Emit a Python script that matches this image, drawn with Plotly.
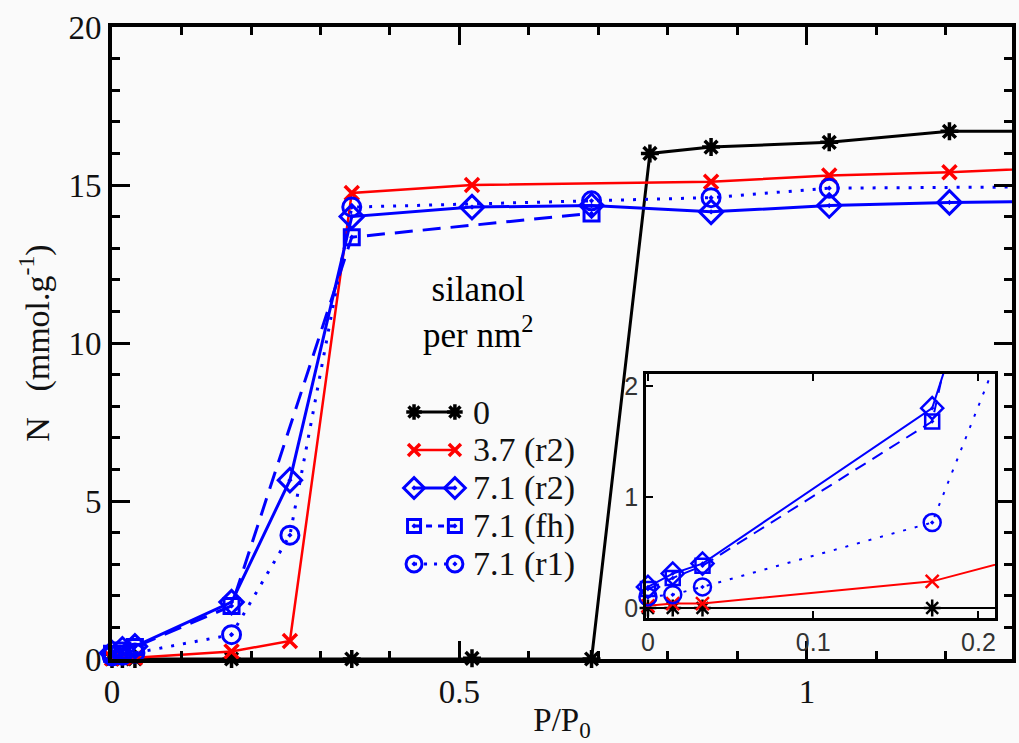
import plotly.graph_objects as go

# Adsorption isotherms: N (mmol/g) versus relative pressure P/P0,
# one curve per silanol density.
LABELS = ["0", "3.7 (r2)", "7.1 (r2)", "7.1 (fh)", "7.1 (r1)"]

P_SIL0 = [0.0, 0.015, 0.033, 0.172, 0.345, 0.518, 0.69, 0.774, 0.862, 1.032, 1.205, 1.40]
N_SIL0 = [0.0, 0.0, 0.0, 0.0, 0.0, 0.02, 0.0, 16.0, 16.2, 16.35, 16.7, 16.7]

P_SIL37_R2 = [0.0, 0.015, 0.033, 0.172, 0.256, 0.345, 0.518, 0.862, 1.032, 1.205, 1.40]
N_SIL37_R2 = [0.02, 0.04, 0.04, 0.24, 0.57, 14.75, 15.0, 15.1, 15.3, 15.4, 15.6]

P_SIL71_R2 = [0.0, 0.015, 0.033, 0.172, 0.256, 0.345, 0.518, 0.69, 0.862, 1.032, 1.205, 1.40]
N_SIL71_R2 = [0.19, 0.31, 0.40, 1.8, 5.66, 14.0, 14.3, 14.35, 14.15, 14.35, 14.45, 14.5]

P_SIL71_FH = [0.0, 0.015, 0.033, 0.172, 0.345, 0.69]
N_SIL71_FH = [0.17, 0.27, 0.38, 1.68, 13.35, 14.1]

P_SIL71_R1 = [0.0, 0.015, 0.033, 0.172, 0.256, 0.345, 0.69, 0.862, 1.032, 1.40]
N_SIL71_R1 = [0.10, 0.12, 0.19, 0.77, 3.92, 14.3, 14.5, 14.6, 14.9, 14.95]

MAIN_XTICKS = [0, 0.5, 1]
MAIN_XTICKTEXT = ["0", "0.5", "1"]
MAIN_YTICKS = [0, 5, 10, 15, 20]
INSET_XTICKS = [0, 0.1, 0.2]
INSET_XTICKTEXT = ["0", "0.1", "0.2"]
INSET_YTICKS = [0, 1, 2]

SERIES = [
    (P_SIL0, N_SIL0),
    (P_SIL37_R2, N_SIL37_R2),
    (P_SIL71_R2, N_SIL71_R2),
    (P_SIL71_FH, N_SIL71_FH),
    (P_SIL71_R1, N_SIL71_R1),
]

BLUE = "#0000ff"
STYLES = [
    dict(color="#000000", width=3, dash="solid", symbol="asterisk-open", size=15, mlw=3.5),
    dict(color="#ff0000", width=2.5, dash="solid", symbol="x-thin-open", size=14, mlw=3.5),
    dict(color=BLUE, width=3, dash="solid", symbol="diamond-open-dot", size=18, mlw=3),
    dict(color=BLUE, width=3, dash="18px,10px", symbol="square-open-dot", size=15, mlw=3),
    dict(color=BLUE, width=3, dash="3px,9px", symbol="circle-open-dot", size=18, mlw=3),
]
INSET_DASH = ["solid", "solid", "solid", "12px,8px", "3px,9px"]

SERIF = "Liberation Serif"
SANS = "Liberation Sans"

fig = go.Figure()

# main panel
for (px, ny), st in zip(SERIES, STYLES):
    fig.add_trace(go.Scatter(
        x=px, y=ny, mode="lines+markers", cliponaxis=False, showlegend=False,
        line=dict(color=st["color"], width=st["width"], dash=st["dash"]),
        marker=dict(symbol=st["symbol"], size=st["size"], color=st["color"],
                    line=dict(color=st["color"], width=st["mlw"])),
        xaxis="x", yaxis="y"))

# low-pressure inset
for (px, ny), st, dsh in zip(SERIES, STYLES, INSET_DASH):
    fig.add_trace(go.Scatter(
        x=px, y=ny, mode="lines+markers", cliponaxis=False, showlegend=False,
        line=dict(color=st["color"], width=2, dash=dsh),
        marker=dict(symbol=st["symbol"], size=st["size"] - 1, color=st["color"],
                    line=dict(color=st["color"], width=2.5)),
        xaxis="x2", yaxis="y2"))

# hand-drawn legend: line sample with a marker at each end, label to the right
LEG_X0, LEG_X1, LEG_TEXT_X = 0.3356, 0.381, 0.399
LEG_Y0, LEG_DY = 0.3908, 0.0601
for i, (lab, st) in enumerate(zip(LABELS, STYLES)):
    yy = LEG_Y0 - i * LEG_DY
    fig.add_trace(go.Scatter(
        x=[LEG_X0, LEG_X1], y=[yy, yy], mode="lines+markers", cliponaxis=False,
        showlegend=False,
        line=dict(color=st["color"], width=st["width"],
                  dash="6px,6px" if i == 3 else ("3px,7px" if i == 4 else "solid")),
        marker=dict(symbol=st["symbol"], size=st["size"] - 2, color=st["color"],
                    line=dict(color=st["color"], width=st["mlw"])),
        xaxis="x3", yaxis="y3"))
    fig.add_annotation(x=LEG_TEXT_X, y=yy, xref="paper", yref="paper", text=lab,
                       showarrow=False, xanchor="left", yanchor="middle",
                       font=dict(family=SERIF, size=34, color="#111111"))

fig.add_annotation(x=0.407, y=0.548, xref="paper", yref="paper",
                   text="silanol<br>per nm<sup>2</sup>", showarrow=False,
                   xanchor="center", yanchor="middle", align="center",
                   font=dict(family=SERIF, size=35, color="#000000"))

axis_common = dict(showgrid=False, zeroline=False, showline=True, linecolor="#000000",
                   ticks="inside", tickcolor="#000000", automargin=False)

fig.update_layout(
    width=1019, height=743,
    margin=dict(l=112, r=7, t=27, b=84),
    paper_bgcolor="#fafafa", plot_bgcolor="#fafafa",
    xaxis=dict(**axis_common, domain=[0, 1], range=[0, 1.295], linewidth=4, mirror="ticks",
               tickvals=MAIN_XTICKS, ticktext=MAIN_XTICKTEXT, ticklen=18, tickwidth=3,
               minor=dict(dtick=0.1, ticklen=8, tickwidth=3, ticks="inside", tickcolor="#000000"),
               tickfont=dict(family=SERIF, size=33, color="#111111"),
               title=dict(text="P/P<sub>0</sub>", standoff=12,
                          font=dict(family=SERIF, size=33, color="#111111"))),
    yaxis=dict(**axis_common, domain=[0, 1], range=[0, 20], linewidth=4, mirror="ticks",
               tickvals=MAIN_YTICKS, ticklen=18, tickwidth=3,
               minor=dict(dtick=1, ticklen=8, tickwidth=3, ticks="inside", tickcolor="#000000"),
               tickfont=dict(family=SERIF, size=33, color="#111111"),
               title=dict(text="N\u00a0\u00a0\u00a0(mmol.g<sup>-1</sup>)", standoff=10,
                          font=dict(family=SERIF, size=34, color="#111111"))),
    xaxis2=dict(**axis_common, domain=[0.5933, 0.9811], anchor="y2", range=[-0.0012, 0.210],
                linewidth=2.5, mirror="ticks", tickvals=INSET_XTICKS, ticktext=INSET_XTICKTEXT,
                ticklen=7, tickwidth=2,
                tickfont=dict(family=SANS, size=25, color="#333333")),
    yaxis2=dict(**axis_common, domain=[0.0649, 0.451], anchor="x2", range=[-0.09, 2.108],
                linewidth=2.5, mirror=True, tickvals=INSET_YTICKS, ticklen=7, tickwidth=2,
                tickfont=dict(family=SANS, size=25, color="#333333")),
    xaxis3=dict(overlaying="x", range=[0, 1], visible=False),
    yaxis3=dict(overlaying="y", range=[0, 1], visible=False),
)

fig.write_html("out.html")
